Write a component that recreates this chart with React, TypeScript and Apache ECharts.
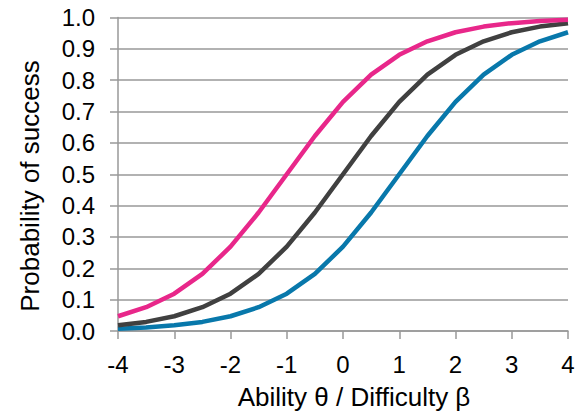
import React, { useEffect, useRef } from "react";
import * as echarts from "echarts";

const abilities = [-4, -3.5, -3, -2.5, -2, -1.5, -1, -0.5, 0, 0.5, 1, 1.5, 2, 2.5, 3, 3.5, 4];
const easyItem = [0.047, 0.076, 0.119, 0.182, 0.269, 0.378, 0.5, 0.622, 0.731, 0.818, 0.881, 0.924, 0.953, 0.971, 0.982, 0.989, 0.993];
const mediumItem = [0.018, 0.029, 0.047, 0.076, 0.119, 0.182, 0.269, 0.378, 0.5, 0.622, 0.731, 0.818, 0.881, 0.924, 0.953, 0.971, 0.982];
const hardItem = [0.007, 0.011, 0.018, 0.029, 0.047, 0.076, 0.119, 0.182, 0.269, 0.378, 0.5, 0.622, 0.731, 0.818, 0.881, 0.924, 0.953];
const xTitle = "Ability θ / Difficulty β";
const yTitle = "Probability of success";

const FONT = "'Liberation Sans', Arial, sans-serif";

export default function App() {
  const ref = useRef<HTMLDivElement>(null);
  useEffect(() => {
    if (!ref.current) return;
    const chart = echarts.init(ref.current, null, { renderer: "svg" });
    const pairs = (ys: number[]) => abilities.map((x, i) => [x, ys[i]]);
    const grey = "#999999";
    chart.setOption({
      animation: false,
      backgroundColor: "#ffffff",
      grid: { left: 118, right: 11, top: 17.5, bottom: 81, containLabel: false },
      xAxis: {
        type: "value",
        min: -4,
        max: 4,
        interval: 1,
        axisLine: { show: true, onZero: false, lineStyle: { color: grey, width: 1.5 } },
        axisTick: { show: true, length: 8, lineStyle: { color: grey, width: 1.5 } },
        splitLine: { show: false },
        axisLabel: { color: "#000", fontSize: 24, fontFamily: FONT, margin: 21 },
      },
      yAxis: {
        type: "value",
        min: 0,
        max: 1,
        interval: 0.1,
        axisLine: { show: true, onZero: false, lineStyle: { color: grey, width: 1.5 } },
        axisTick: { show: true, length: 8, lineStyle: { color: grey, width: 1.5 } },
        splitLine: { show: true, lineStyle: { color: grey, width: 1.5 } },
        axisLabel: {
          color: "#000",
          fontSize: 24,
          fontFamily: FONT,
          margin: 23,
          formatter: (v: number) => v.toFixed(1),
        },
      },
      graphic: [
        {
          type: "text",
          x: 354,
          y: 397,
          style: {
            text: xTitle,
            font: `26px ${FONT}`,
            fill: "#000",
            align: "center",
            verticalAlign: "middle",
          },
        },
        {
          type: "text",
          x: 30,
          y: 186,
          rotation: Math.PI / 2,
          style: {
            text: yTitle,
            font: `26px ${FONT}`,
            fill: "#000",
            align: "center",
            verticalAlign: "middle",
          },
        },
      ],
      series: [
        {
          type: "line",
          name: "Hard",
          data: pairs(hardItem),
          showSymbol: false,
          symbol: "none",
          lineStyle: { color: "#0878AB", width: 4.5 },
          itemStyle: { color: "#0878AB" },
        },
        {
          type: "line",
          name: "Medium",
          data: pairs(mediumItem),
          showSymbol: false,
          symbol: "none",
          lineStyle: { color: "#404040", width: 4.5 },
          itemStyle: { color: "#404040" },
        },
        {
          type: "line",
          name: "Easy",
          data: pairs(easyItem),
          showSymbol: false,
          symbol: "none",
          lineStyle: { color: "#E8278A", width: 4.5 },
          itemStyle: { color: "#E8278A" },
        },
      ],
    });
    return () => chart.dispose();
  }, []);
  return <div ref={ref} style={{ width: 579, height: 412, position: "absolute", left: 0, top: 0 }} />;
}
